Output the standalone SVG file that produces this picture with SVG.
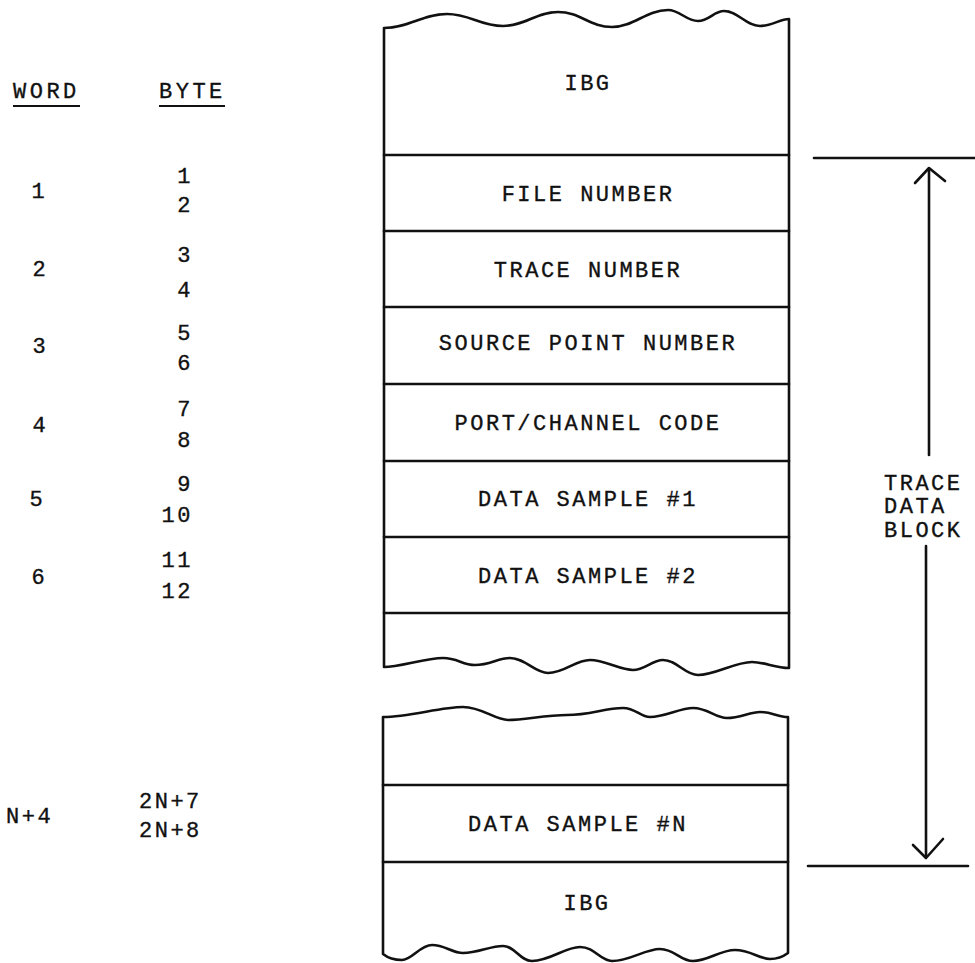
<svg xmlns="http://www.w3.org/2000/svg" width="975" height="963" viewBox="0 0 975 963">
<style>
.ln{fill:none;stroke:#111;stroke-width:2.6;stroke-linejoin:round;stroke-linecap:round}
.t{font-family:"Liberation Mono","DejaVu Sans Mono",monospace;font-size:22px;fill:#111;stroke:#111;stroke-width:0.35;letter-spacing:2.5px}
.bx{text-anchor:middle}
.hd{letter-spacing:3.5px}
.lm{text-anchor:middle;letter-spacing:0}
.le{text-anchor:end}
</style>
<rect width="975" height="963" fill="#fff"/>

<g id="block-upper">
<path class="ln" d="M384,28 C409,28 422,14 447,14 C470,14 480,26 503,26 C525,26 536,12 558,12 C580,12 590,27 612,27 C634,27 646,10 668,10 C680,10 686,21 698,21 C709,21 714,11 724,11 C738,11 746,26 760,26 C772,26 780,19 789,19 L789,668 C775,668 765,662 752,662 C735,662 715,675 698,675 C685,675 677,660 663,660 C652,660 645,670 633,670 C620,670 605,660 590,660 C575,660 565,673 548,673 C535,673 525,658 510,658 C498,658 490,665 475,665 C462,665 458,658 443,658 C425,658 400,667 384,667 Z"/>
</g>
<g id="row-ibg-top"><text class="t bx" x="588" y="90">IBG</text></g>
<g id="row-file-number"><line class="ln" x1="384" y1="155" x2="789" y2="155"/><text class="t bx" x="588" y="201">FILE NUMBER</text></g>
<g id="row-trace-number"><line class="ln" x1="384" y1="231" x2="789" y2="231"/><text class="t bx" x="588" y="277">TRACE NUMBER</text></g>
<g id="row-source-point"><line class="ln" x1="384" y1="307" x2="789" y2="307"/><text class="t bx" x="588" y="350">SOURCE POINT NUMBER</text></g>
<g id="row-port-channel"><line class="ln" x1="384" y1="384" x2="789" y2="384"/><text class="t bx" x="588" y="430">PORT/CHANNEL CODE</text></g>
<g id="row-sample-1"><line class="ln" x1="384" y1="461" x2="789" y2="461"/><text class="t bx" x="588" y="506">DATA SAMPLE #1</text></g>
<g id="row-sample-2"><line class="ln" x1="384" y1="537" x2="789" y2="537"/><text class="t bx" x="588" y="583">DATA SAMPLE #2</text></g>
<g id="row-empty-upper"><line class="ln" x1="384" y1="613" x2="789" y2="613"/></g>

<g id="block-lower">
<path class="ln" d="M383,717 C410,717 440,707 463,707 C482,707 495,720 508,720 C525,720 545,715 567,715 C590,715 605,708 623,708 C636,708 640,717 650,717 C665,717 680,708 693,708 C708,708 715,718 727,718 C740,718 750,712 760,712 C772,712 778,717 788,717 L788,953 C784,956 778,959 770,959 C760,959 750,950 735,950 C720,950 708,961 693,961 C680,961 675,949 660,949 C645,949 630,961 612,961 C600,961 595,947 580,947 C565,947 550,961 532,961 C520,961 515,946 503,946 C490,946 478,953 463,953 C452,953 445,945 432,945 C420,945 412,960 402,960 C395,960 388,958 383,954 Z"/>
</g>
<g id="row-sample-n"><line class="ln" x1="383" y1="785" x2="788" y2="785"/><text class="t bx" x="578" y="831">DATA SAMPLE #N</text></g>
<g id="row-ibg-bottom"><line class="ln" x1="383" y1="862" x2="788" y2="862"/><text class="t bx" x="587" y="910">IBG</text></g>

<g id="hdr-word"><text class="t hd" x="13" y="98">WORD</text><line x1="13" y1="106" x2="80" y2="106" stroke="#111" stroke-width="2"/></g>
<g id="hdr-byte"><text class="t hd" x="159" y="98">BYTE</text><line x1="159" y1="106" x2="225" y2="106" stroke="#111" stroke-width="2"/></g>

<g id="word-1"><text class="t lm" x="38" y="198">1</text><text class="t le" x="193" y="183">1</text><text class="t le" x="193" y="212">2</text></g>
<g id="word-2"><text class="t lm" x="39" y="276">2</text><text class="t le" x="193" y="262">3</text><text class="t le" x="193" y="297">4</text></g>
<g id="word-3"><text class="t lm" x="39" y="353">3</text><text class="t le" x="193" y="340">5</text><text class="t le" x="193" y="370">6</text></g>
<g id="word-4"><text class="t lm" x="39" y="432">4</text><text class="t le" x="193" y="416">7</text><text class="t le" x="193" y="447">8</text></g>
<g id="word-5"><text class="t lm" x="36" y="506">5</text><text class="t le" x="193" y="491">9</text><text class="t le" x="193" y="522">10</text></g>
<g id="word-6"><text class="t lm" x="38" y="584">6</text><text class="t le" x="193" y="567">11</text><text class="t le" x="193" y="598">12</text></g>
<g id="word-n4"><text class="t" x="6" y="823">N+4</text><text class="t" x="139" y="808">2N+7</text><text class="t" x="139" y="837">2N+8</text></g>

<g id="label-trace-data-block">
<text class="t" x="884" y="490">TRACE</text>
<text class="t" x="884" y="513">DATA</text>
<text class="t" x="884" y="537">BLOCK</text>
</g>

<g id="connectors">
<line class="ln" x1="814" y1="158" x2="975" y2="158"/>
<line class="ln" x1="808" y1="866" x2="968" y2="866"/>
<line class="ln" x1="929" y1="169" x2="929" y2="455"/>
<polyline class="ln" points="915,183 929,168 945,181"/>
<line class="ln" x1="926" y1="546" x2="926" y2="857"/>
<polyline class="ln" points="913,845 926,858 943,839"/>
</g>
</svg>
